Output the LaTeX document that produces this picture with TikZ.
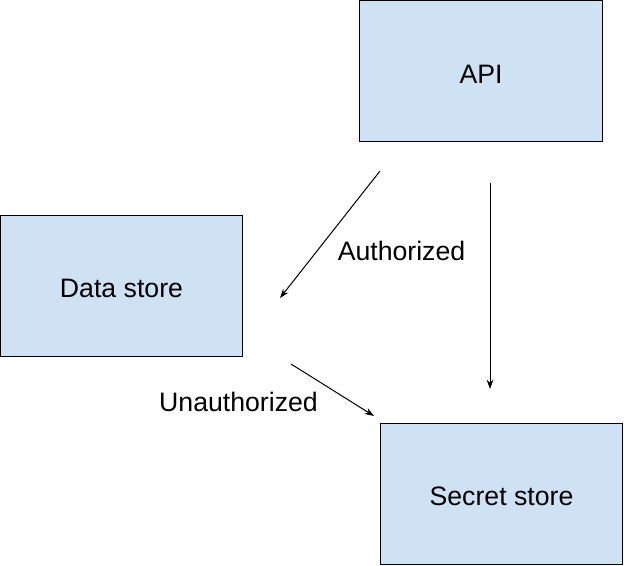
\documentclass[tikz,border=0pt]{standalone}
\usepackage{fontspec}
\setmainfont{Liberation Sans}
\usetikzlibrary{arrows.meta, positioning}
\definecolor{boxblue}{RGB}{207, 226, 243}

\begin{document}
\begin{tikzpicture}[x=0.75pt,y=-0.75pt,
    store/.style={draw,fill=boxblue,line width=0.75pt,minimum width=182pt,minimum height=105.5pt,inner sep=0pt,font=\fontsize{20}{24}\selectfont},
    flow/.style={-{Stealth[length=7pt,width=5pt]},line width=0.75pt},
    lbl/.style={font=\fontsize{20}{24}\selectfont,inner sep=0pt}]
        \useasboundingbox (0,0) rectangle (624,566);
        \node[store] (api) at (481,71){};
        \node[store] (data) at (121.5,286){};
        \node[store] (secret) at (501.5,494){};
        \node[lbl] at ([yshift=-2.5pt]api.center){API};
        \node[lbl] at ([yshift=-1.5pt]data.center){Data store};
        \node[lbl] at ([yshift=-1.5pt]secret.center){Secret store};
        \coordinate (a1) at (380,171);
        \coordinate (a2) at (280,298);
        \coordinate (b1) at (490,183);
        \coordinate (b2) at (490,389);
        \coordinate (c1) at (291,364);
        \coordinate (c2) at (374,416);
        \draw[flow](a1)--(a2);
        \draw[flow](b1)--(b2);
        \draw[flow](c1)--(c2);
        \node[lbl] (auth) at (401.5,251){Authorized};
        \node[lbl] (unauth) at (238.5,401.5){Unauthorized};
      \end{tikzpicture}
\end{document}
